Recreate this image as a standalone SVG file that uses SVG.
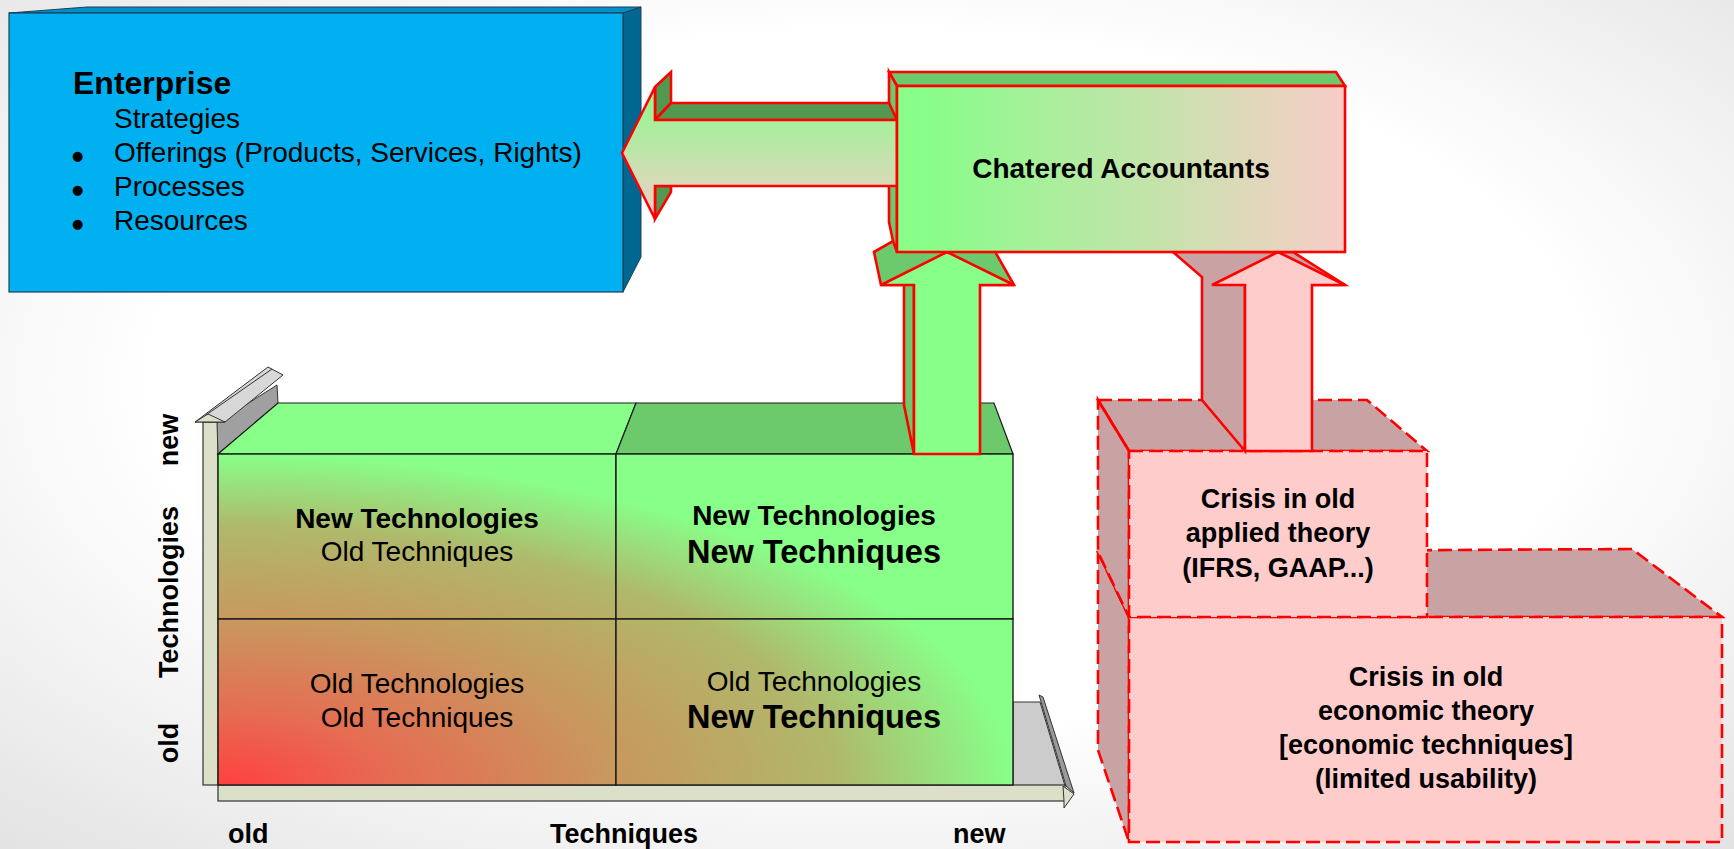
<svg xmlns="http://www.w3.org/2000/svg" width="1734" height="849" viewBox="0 0 1734 849">
  <defs>
    <radialGradient id="bg" cx="50%" cy="45%" r="75%">
      <stop offset="0.55" stop-color="#FFFFFF"/>
      <stop offset="1" stop-color="#E2E2E2"/>
    </radialGradient>
    <linearGradient id="caFront" gradientUnits="userSpaceOnUse" x1="897" y1="0" x2="1345" y2="0">
      <stop offset="0" stop-color="#88FF88"/>
      <stop offset="0.08" stop-color="#8AFC8A"/>
      <stop offset="1" stop-color="#F8CDC8"/>
    </linearGradient>
    <linearGradient id="leftArrow" gradientUnits="userSpaceOnUse" x1="0" y1="87" x2="0" y2="219">
      <stop offset="0" stop-color="#8CFA8C"/>
      <stop offset="1" stop-color="#F2CFC8"/>
    </linearGradient>
    <radialGradient id="matrix" gradientUnits="userSpaceOnUse" cx="0" cy="0" r="1" fx="0" fy="0" gradientTransform="translate(218,785) scale(795,331)">
      <stop offset="0" stop-color="#FF4040"/>
      <stop offset="0.22" stop-color="#E66C52"/>
      <stop offset="0.5" stop-color="#C8985F"/>
      <stop offset="0.78" stop-color="#B0B86C"/>
      <stop offset="1" stop-color="#88FF88"/>
    </radialGradient>
  </defs>
  <style>
    .t { font-family: "Liberation Sans", Arial, sans-serif; fill: #000000; }
    .b { font-weight: bold; }
    .red { stroke: #FF0000; stroke-width: 2.6; stroke-linejoin: miter; }
    .dash { stroke: #FF0000; stroke-width: 2.6; stroke-dasharray: 14 6; }
    .edge { stroke: #1A1A1A; stroke-width: 1.2; }
    .axis { fill: #DDE0C8; stroke: #333333; stroke-width: 1.2; }
    .cell { fill: url(#matrix); stroke: #1A1A1A; stroke-width: 1.4; }
    .bullet { font-family: "DejaVu Sans", sans-serif; font-size: 13px; fill: #000000; }
  </style>

  <rect x="0" y="0" width="1734" height="849" fill="url(#bg)"/>

  <!-- Enterprise -->
  <g id="enterprise">
    <polygon points="9,13 87,7 641,7 623,13" fill="#0090C8" stroke="#1F3F5A" stroke-width="1"/>
    <polygon points="623,13 641,7 641,257 623,292" fill="#006890" stroke="#1F3F5A" stroke-width="1"/>
    <rect x="9" y="13" width="614" height="279" fill="#00B0F0" stroke="#1F3F5A" stroke-width="1.2"/>
    <text class="t b" x="73" y="94" font-size="32">Enterprise</text>
    <text class="t" x="114" y="128" font-size="28">Strategies</text>
    <text class="bullet" x="72" y="160">●</text>
    <text class="t" x="114" y="162" font-size="28">Offerings (Products, Services, Rights)</text>
    <text class="bullet" x="72" y="194">●</text>
    <text class="t" x="114" y="196" font-size="28">Processes</text>
    <text class="bullet" x="72" y="228">●</text>
    <text class="t" x="114" y="230" font-size="28">Resources</text>
  </g>

  <!-- Matrix with axes -->
  <g id="axis-technologies">
    <rect class="axis" x="203" y="422" width="15" height="363"/>
    <polygon points="217,423 277,385 278,403 218,454" fill="#A0A0A0" stroke="#333333" stroke-width="1"/>
    <polygon points="195,422 268,367 283,375 225,422" fill="#D8D8D8" stroke="#333333" stroke-width="1"/>
    <line x1="206" y1="415" x2="272" y2="369" stroke="#333333" stroke-width="1"/>
    <polygon points="195,422 208,414 225,422" fill="#DDE0C8" stroke="#333333" stroke-width="1"/>
    <text class="t b" font-size="27" text-anchor="middle" transform="translate(178,440) rotate(-90)">new</text>
    <text class="t b" font-size="27" text-anchor="middle" transform="translate(178,592) rotate(-90)">Technologies</text>
    <text class="t b" font-size="27" text-anchor="middle" transform="translate(178,743) rotate(-90)">old</text>
  </g>

  <g id="matrix-top">
    <polygon points="278,403 636,403 616,454 218,454" fill="#88FF88" class="edge"/>
    <polygon points="636,403 994,403 1013,454 616,454" fill="#6CC96C" class="edge"/>
  </g>

  <g id="axis-techniques">
    <polygon points="1013,702 1040,702 1065,786 1013,786" fill="#CCCCCC" stroke="#333333" stroke-width="1"/>
    <polygon points="1039,695 1043,697 1074,793 1066,786" fill="#9A9A9A" stroke="#222222" stroke-width="0.9"/>
    <rect class="axis" x="218" y="785" width="847" height="16"/>
    <polygon points="1063,786 1074,794 1064,808 1064,801" fill="#DDE0C8" stroke="#333333" stroke-width="1"/>
    <text class="t b" x="228" y="843" font-size="27">old</text>
    <text class="t b" x="550" y="843" font-size="27">Techniques</text>
    <text class="t b" x="953" y="843" font-size="27">new</text>
  </g>

  <g id="cell-new-old">
    <rect class="cell" x="218" y="454" width="398" height="165"/>
    <text class="t b" x="417" y="528" font-size="28" text-anchor="middle">New Technologies</text>
    <text class="t" x="417" y="561" font-size="28" text-anchor="middle">Old Techniques</text>
  </g>
  <g id="cell-new-new">
    <rect class="cell" x="616" y="454" width="397" height="165"/>
    <text class="t b" x="814" y="525" font-size="28" text-anchor="middle">New Technologies</text>
    <text class="t b" x="814" y="563" font-size="32.5" text-anchor="middle">New Techniques</text>
  </g>
  <g id="cell-old-old">
    <rect class="cell" x="218" y="619" width="398" height="166"/>
    <text class="t" x="417" y="693" font-size="28" text-anchor="middle">Old Technologies</text>
    <text class="t" x="417" y="727" font-size="28" text-anchor="middle">Old Techniques</text>
  </g>
  <g id="cell-old-new">
    <rect class="cell" x="616" y="619" width="397" height="166"/>
    <text class="t" x="814" y="691" font-size="28" text-anchor="middle">Old Technologies</text>
    <text class="t b" x="814" y="728" font-size="32.5" text-anchor="middle">New Techniques</text>
  </g>

  <!-- Crisis boxes -->
  <g id="crisis-economic">
    <polygon points="1098,552 1632,549 1722,617 1129,617" fill="#C9A3A3" class="dash"/>
    <polygon points="1098,552 1129,617 1129,842 1098,750" fill="#C9A3A3" class="dash"/>
    <line x1="1098" y1="552" x2="1129" y2="617" class="red"/>
    <rect x="1129" y="617" width="593" height="225" fill="#FFCCCC" class="dash"/>
    <text class="t b" x="1426" y="686" font-size="27" text-anchor="middle">Crisis in old</text>
    <text class="t b" x="1426" y="720" font-size="27" text-anchor="middle">economic theory</text>
    <text class="t b" x="1426" y="754" font-size="27" text-anchor="middle">[economic techniques]</text>
    <text class="t b" x="1426" y="788" font-size="27" text-anchor="middle">(limited usability)</text>
  </g>
  <g id="crisis-applied">
    <polygon points="1098,400 1367,400 1427,451 1129,451" fill="#C9A3A3" class="dash"/>
    <polygon points="1098,400 1129,451 1129,617 1098,552" fill="#C9A3A3" class="dash"/>
    <line x1="1098" y1="400" x2="1129" y2="451" class="red"/>
    <rect x="1129" y="451" width="298" height="166" fill="#FFCCCC" class="dash"/>
    <text class="t b" x="1278" y="508" font-size="27" text-anchor="middle">Crisis in old</text>
    <text class="t b" x="1278" y="542" font-size="27" text-anchor="middle">applied theory</text>
    <text class="t b" x="1278" y="577" font-size="27" text-anchor="middle">(IFRS, GAAP...)</text>
  </g>

  <!-- Connectors (3D block arrows) -->
  <g id="connectors">
    <g id="arrow-crisis-to-ca">
      <polygon points="1173,252 1293,252 1345,285 1245,285 1245,451 1202,400 1202,277" fill="#C9A3A3" class="red"/>
      <polygon points="1278,252 1345,285 1312,285 1312,451 1245,451 1245,285 1212,285" fill="#FFCCCC" class="red"/>
    </g>
    <g id="arrow-matrix-to-ca">
      <polygon points="874,252 893,241 989,241 1014,285 914,285 914,454 904,405 904,285 881,285" fill="#6CC96C" class="red"/>
      <polygon points="947,252 1014,285 980,285 980,454 914,454 914,285 881,285" fill="#88FF88" class="red"/>
    </g>
  </g>

  <!-- Chatered Accountants (back faces) -->
  <g id="chartered-accountants">
    <polygon points="889,72 1336,72 1345,86 897,86" fill="#6CC96C" class="red"/>
    <polygon points="889,72 897,86 897,252 893,241 889,222" fill="#6CC96C" class="red"/>
  </g>

  <g id="arrow-ca-to-enterprise">
    <polygon points="655,87 671,72 671,103 655,120" fill="#52994F" class="red"/>
    <polygon points="655,120 671,103 889,103 897,120" fill="#52994F" class="red"/>
    <polygon points="655,186 671,186 671,192 655,219" fill="#52994F" class="red"/>
    <polygon points="622,153 655,87 655,120 897,120 897,186 655,186 655,219" fill="url(#leftArrow)" class="red"/>
  </g>

  <g id="chartered-accountants-front">
    <rect x="897" y="86" width="448" height="166" fill="url(#caFront)" class="red"/>
    <text class="t b" x="1121" y="178" font-size="28" text-anchor="middle">Chatered Accountants</text>
  </g>
</svg>
